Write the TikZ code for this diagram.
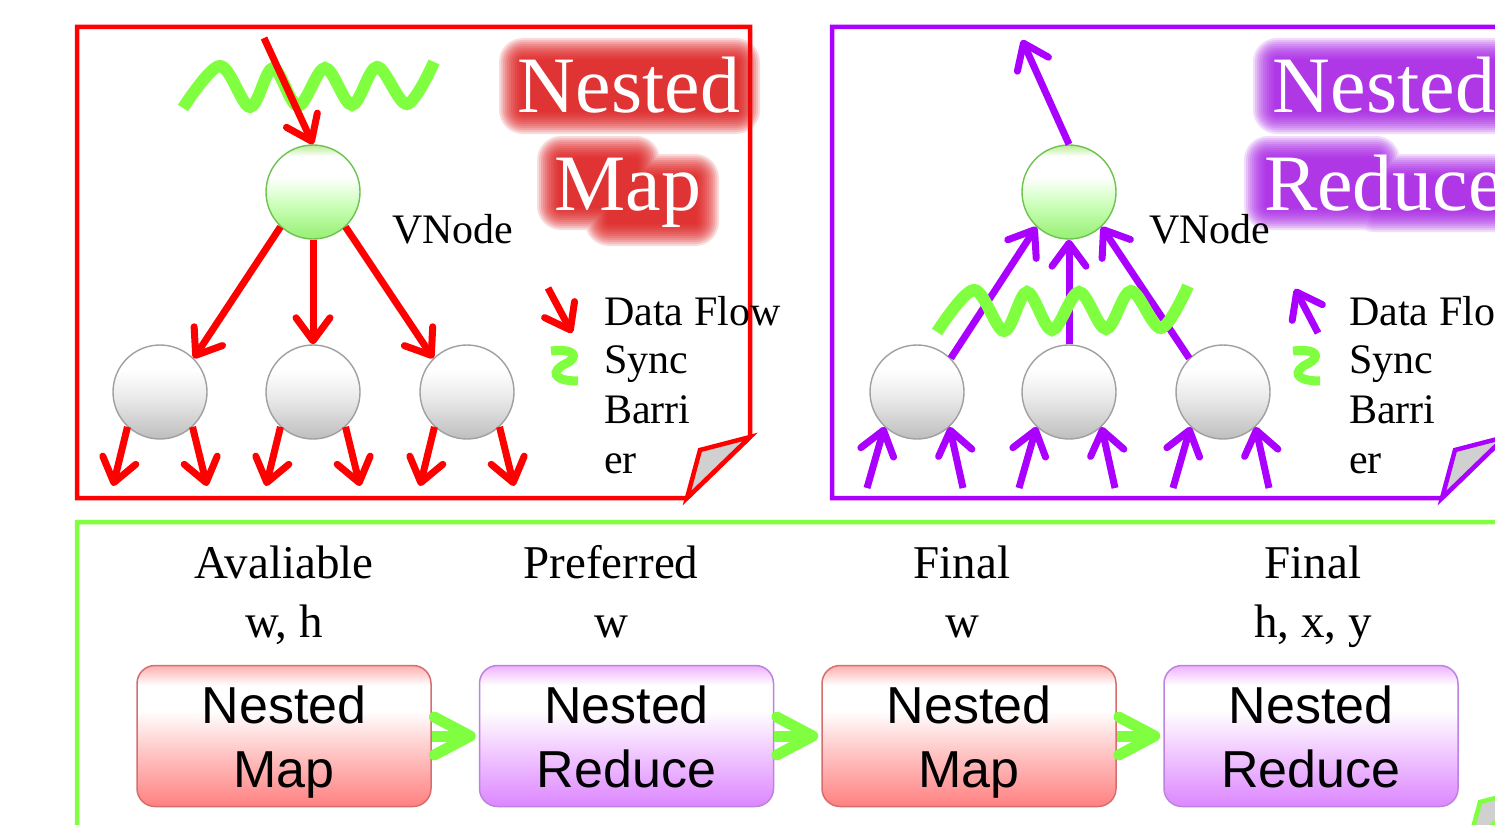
\documentclass[tikz,border=0pt]{standalone}
\usepackage{fontspec}
\setmainfont{Liberation Serif}
\newfontfamily\arialf{Liberation Sans}
\usetikzlibrary{arrows.meta}
\definecolor{cred}{RGB}{255,0,0}
\definecolor{cpur}{RGB}{170,0,255}
\definecolor{cgrn}{RGB}{128,255,64}
\definecolor{glowr}{RGB}{222,20,20}
\definecolor{glowp}{RGB}{165,25,230}
\definecolor{foldg}{RGB}{208,208,208}
\definecolor{sphB}{RGB}{190,190,190}
\definecolor{sphM}{RGB}{234,234,234}
\definecolor{sphL}{RGB}{160,160,160}
\definecolor{gB}{RGB}{150,240,115}
\definecolor{gM}{RGB}{206,255,188}
\definecolor{gT}{RGB}{185,236,150}
\definecolor{gL}{RGB}{110,195,80}
\definecolor{rbB}{RGB}{255,128,128}
\definecolor{rbM}{RGB}{255,200,200}
\definecolor{rbT}{RGB}{255,196,196}
\definecolor{rbT2}{RGB}{255,176,176}
\definecolor{rbL}{RGB}{215,110,110}
\definecolor{pbB}{RGB}{220,134,255}
\definecolor{pbM}{RGB}{242,204,255}
\definecolor{pbT}{RGB}{244,200,255}
\definecolor{pbT2}{RGB}{236,176,255}
\definecolor{pbL}{RGB}{190,130,225}
\pgfdeclareverticalshading{graysph}{100bp}{color(0bp)=(sphB); color(25bp)=(sphB); color(47bp)=(sphM); color(62bp)=(white); color(75bp)=(white); color(100bp)=(white)}
\pgfdeclareverticalshading{greensph}{100bp}{color(0bp)=(gB); color(25bp)=(gB); color(44bp)=(gM); color(58bp)=(white); color(69bp)=(white); color(75bp)=(gT); color(100bp)=(gT)}
\pgfdeclareverticalshading{redbox}{100bp}{color(0bp)=(rbB); color(25bp)=(rbB); color(45bp)=(rbM); color(59bp)=(white); color(68bp)=(white); color(73bp)=(rbT); color(75bp)=(rbT2); color(100bp)=(rbT2)}
\pgfdeclareverticalshading{purpbox}{100bp}{color(0bp)=(pbB); color(25bp)=(pbB); color(45bp)=(pbM); color(59bp)=(white); color(68bp)=(white); color(73bp)=(pbT); color(75bp)=(pbT2); color(100bp)=(pbT2)}
\newcommand\myglow[5]{\foreach \r in {2,4,...,24}{\fill[#1,opacity=0.15,rounded corners=\r pt] ({#2-\r+4},{#3-\r+4}) rectangle ({#4+\r-4},{#5+\r-4});}}
\newcommand\myglowtwo[9]{\foreach \r in {2,4,...,24}{\fill[#1,opacity=0.15,rounded corners=\r pt] ({#2-\r+4},{#3-\r+4}) rectangle ({#4+\r-4},{#5+\r-4}) ({#6-\r+4},{#7-\r+4}) rectangle ({#8+\r-4},{#9+\r-4});}}
\tikzset{
  panel/.style={line width=4.5pt, line join=miter},
  foldst/.style={fill=foldg, line width=4.5pt, line join=miter},
  wsph/.style={circle, minimum size=94pt, inner sep=0pt, shade, shading=graysph, draw=sphL, line width=1.4pt},
  gsph/.style={circle, minimum size=94pt, inner sep=0pt, shade, shading=greensph, draw=gL, line width=1.4pt},
  flowR/.style={cred, line width=7pt, -{Straight Barb[length=23pt,width=34pt,round]}},
  flowP/.style={cpur, line width=7pt, -{Straight Barb[length=23pt,width=34pt,round]}},
  chev/.style={cgrn, line width=11pt, shorten >=3pt, -{Straight Barb[length=36pt,width=38pt,round]}},
  wave/.style={cgrn, line width=12pt},
  titlef/.style={inner sep=0pt, white, font=\fontsize{80pt}{96pt}\selectfont},
  vtext/.style={inner sep=0pt, black, font=\fontsize{42pt}{50pt}\selectfont},
  lbl/.style={inner sep=0pt, black, font=\fontsize{47pt}{58pt}\selectfont},
  boxt/.style={inner sep=0pt, black, font=\arialf\fontsize{52pt}{64pt}\selectfont},
  rbox/.style={rectangle, rounded corners=18pt, minimum width=294pt, minimum height=141pt, shade, shading=redbox, draw=rbL, line width=1.5pt},
  pbox/.style={rectangle, rounded corners=18pt, minimum width=294pt, minimum height=141pt, shade, shading=purpbox, draw=pbL, line width=1.5pt},
  syncwave/.pic={\draw[wave] plot[smooth,tension=0.55] coordinates {(183,108) (220,66) (250,107) (273,68) (298,106) (325,68) (352,105) (377,67) (407,104) (434,62)};},
  syncmark/.pic={\draw[cgrn, line width=9pt] (551,351) .. controls (575,348) and (580,357) .. (565,364) .. controls (551,371) and (552,381) .. (578,381);}
}
\begin{document}
\begin{tikzpicture}[x=1pt,y=-1pt]
\path[use as bounding box] (0,0) rectangle (1495,824);
\clip (0,0) rectangle (1495,824);
\fill[white] (0,0) rectangle (1495,824);

% ---------- panels ----------
\draw[panel, cred] (77,27) -- (750,27) -- (750,437) -- (687,498) -- (77,498) -- cycle;
\draw[foldst, draw=cred] (750,437) -- (700,450) -- (687,498) -- cycle;
\draw[panel, cpur] (832,27) -- (1505,27) -- (1505,437) -- (1442,498) -- (832,498) -- cycle;
\draw[foldst, draw=cpur] (1505,437) -- (1455,450) -- (1442,498) -- cycle;
\draw[panel, cgrn] (77,522) -- (1530,522) -- (1530,789) -- (1467,850) -- (77,850) -- cycle;
\draw[foldst, draw=cgrn] (1530,789) -- (1480,802) -- (1467,850) -- cycle;

% ---------- titles ----------
\myglow{glowr}{519}{58}{740}{114}
\myglowtwo{glowr}{557}{156}{640}{210}{605}{174}{699}{226}
\node[titlef, anchor=base] (tLN) at (629,113) {Nested};
\node[titlef, anchor=base] (tLM) at (628,210) {Map};
\myglow{glowp}{1273}{58}{1505}{114}
\myglowtwo{glowp}{1264}{156}{1380}{210}{1370}{174}{1510}{212}
\node[titlef, anchor=base] (tRN) at (1384,113) {Nested};
\node[titlef, anchor=base] (tRR) at (1384,210) {Reduce};

% ---------- left panel: nested map ----------
\node[gsph] (L0) at (313,192) {};
\node[wsph] (L1) at (160,392) {};
\node[wsph] (L2) at (313,392) {};
\node[wsph] (L3) at (467,392) {};
\pic at (0,0) {syncwave};
\coordinate (Lin) at (264,38);
\draw[flowR] (Lin) -- (L0.north);
\draw[flowR] (L0.227) -- (L1.45);
\draw[flowR] (L0.south) -- (L2.north);
\draw[flowR] (L0.313) -- (L3.135);
\foreach \n/\cx in {L1/160,L2/313,L3/467}{
  \coordinate (\n a) at (\cx-47,486);
  \coordinate (\n b) at (\cx+47,486);
  \draw[flowR] (\n.227) -- (\n a);
  \draw[flowR] (\n.313) -- (\n b);
}
\node[vtext, anchor=base west] (vL) at (392,243) {VNode};
\coordinate (LlegT) at (548,288);
\coordinate (LlegH) at (572,333);
\draw[flowR] (LlegT) -- (LlegH);
\pic at (0,0) {syncmark};
\node[vtext, anchor=base west] (lg1) at (604,325) {Data Flow};
\node[vtext, anchor=base west] (lg2) at (604,373) {Sync};
\node[vtext, anchor=base west] (lg3) at (604,423) {Barri};
\node[vtext, anchor=base west] (lg4) at (604,473) {er};

% ---------- right panel: nested reduce ----------
\node[gsph] (R0) at (1069,192) {};
\node[wsph] (R1) at (917,392) {};
\node[wsph] (R2) at (1069,392) {};
\node[wsph] (R3) at (1223,392) {};
\coordinate (Rout) at (1022,40);
\draw[flowP] (R0.north) -- (Rout);
\draw[flowP] (R1.45) -- (R0.227);
\draw[flowP] (R2.north) -- (R0.south);
\draw[flowP] (R3.135) -- (R0.313);
\foreach \n/\cx in {R1/917,R2/1069,R3/1223}{
  \coordinate (\n a) at (\cx-50,488);
  \coordinate (\n b) at (\cx+46,488);
  \draw[flowP] (\n a) -- (\n.227);
  \draw[flowP] (\n b) -- (\n.313);
}
\pic at (754,224) {syncwave};
\node[vtext, anchor=base west] (vR) at (1149,243) {VNode};
\coordinate (RlegT) at (1318,333);
\coordinate (RlegH) at (1295,289);
\draw[flowP] (RlegT) -- (RlegH);
\pic at (742,0) {syncmark};
\node[vtext, anchor=base west] (rg1) at (1349,325) {Data Flow};
\node[vtext, anchor=base west] (rg2) at (1349,373) {Sync};
\node[vtext, anchor=base west] (rg3) at (1349,423) {Barri};
\node[vtext, anchor=base west] (rg4) at (1349,473) {er};

% ---------- bottom pipeline ----------
\node[lbl, anchor=base] (a1) at (284,578) {Avaliable};
\node[lbl, anchor=base] (a2) at (284,637) {w, h};
\node[lbl, anchor=base] (p1) at (611,578) {Preferred};
\node[lbl, anchor=base] (p2) at (611,637) {w};
\node[lbl, anchor=base] (f1) at (962,578) {Final};
\node[lbl, anchor=base] (f2) at (962,637) {w};
\node[lbl, anchor=base] (g1) at (1313,578) {Final};
\node[lbl, anchor=base] (g2) at (1313,637) {h, x, y};

\node[rbox] (b1) at (284,736) {};
\node[pbox] (b2) at (626.5,736) {};
\node[rbox] (b3) at (969,736) {};
\node[pbox] (b4) at (1311,736) {};
\node[boxt, anchor=base] (b1t) at (284,723) {Nested};
\node[boxt, anchor=base] (b1u) at (284,787) {Map};
\node[boxt, anchor=base] (b2t) at (626.5,723) {Nested};
\node[boxt, anchor=base] (b2u) at (626.5,787) {Reduce};
\node[boxt, anchor=base] (b3t) at (969,723) {Nested};
\node[boxt, anchor=base] (b3u) at (969,787) {Map};
\node[boxt, anchor=base] (b4t) at (1311,723) {Nested};
\node[boxt, anchor=base] (b4u) at (1311,787) {Reduce};
\draw[chev] (b1.east) -- (b2.west);
\draw[chev] (b2.east) -- (b3.west);
\draw[chev] (b3.east) -- (b4.west);
\end{tikzpicture}
\end{document}
